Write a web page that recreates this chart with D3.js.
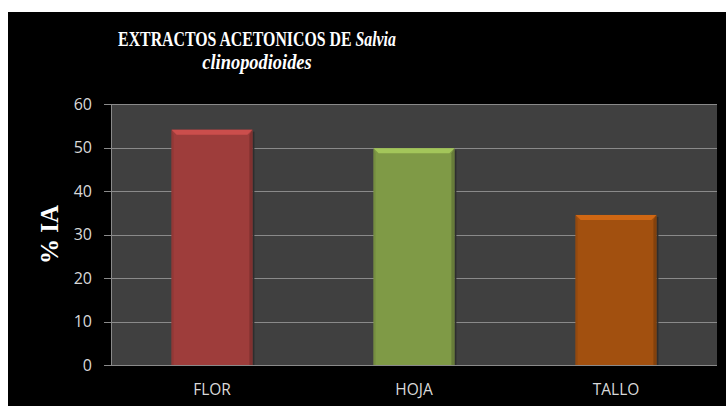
<!DOCTYPE html>
<html>
<head>
<meta charset="utf-8">
<script src="https://cdn.jsdelivr.net/npm/d3@7"></script>
<style>
  body { margin: 0; background: #fff; }
  svg { display: block; }
</style>
</head>
<body>
<div id="vis"></div>
<script>
// chart values
var categories = ['FLOR', 'HOJA', 'TALLO'];
var values = [54.1, 49.8, 34.5];
var barColors = ['#9e3d3b', '#7f9a46', '#a2500f'];
var yTicks = [0, 10, 20, 30, 40, 50, 60];

var width = 726;
var height = 406;
var margin = { top: 104, right: 9, bottom: 41, left: 111 };

var svg = d3.select('#vis')
  .append('svg')
  .attr('width', width)
  .attr('height', height);

// black chart background
svg.append('rect')
  .attr('x', 8).attr('y', 12)
  .attr('width', width - 8).attr('height', height - 12)
  .attr('fill', '#000');

var x = d3.scaleBand()
  .domain(categories)
  .range([margin.left, width - margin.right])
  .paddingInner(0.6)
  .paddingOuter(0.3);

var y = d3.scaleLinear()
  .domain([0, 60])
  .range([height - margin.bottom, margin.top]);

// plot area
svg.append('rect')
  .attr('x', margin.left).attr('y', margin.top)
  .attr('width', width - margin.right - margin.left)
  .attr('height', y(0) - y(60))
  .attr('fill', '#404040');

// gridlines + tick marks
svg.append('g')
  .selectAll('line')
  .data(yTicks)
  .enter().append('line')
  .attr('x1', margin.left - 7)
  .attr('x2', width - margin.right)
  .attr('y1', function(d) { return Math.round(y(d)) + 0.5; })
  .attr('y2', function(d) { return Math.round(y(d)) + 0.5; })
  .attr('stroke', '#8a8a8a')
  .attr('stroke-width', 1);

// y axis line
svg.append('line')
  .attr('x1', margin.left + 0.5).attr('x2', margin.left + 0.5)
  .attr('y1', y(60)).attr('y2', y(0))
  .attr('stroke', '#8a8a8a');

// y tick labels
svg.append('g')
  .selectAll('text')
  .data(yTicks)
  .enter().append('text')
  .attr('x', margin.left - 19)
  .attr('y', function(d) { return y(d); })
  .attr('dy', '0.35em')
  .attr('text-anchor', 'end')
  .attr('font-family', 'Open Sans, Liberation Sans, sans-serif')
  .attr('font-size', 16)
  .attr('fill', '#d9d9d9')
  .text(function(d) { return d; });

// x labels
svg.append('g')
  .selectAll('text')
  .data(categories)
  .enter().append('text')
  .attr('x', function(d) { return x(d) + x.bandwidth() / 2; })
  .attr('y', y(0) + 30)
  .attr('text-anchor', 'middle')
  .attr('font-family', 'Open Sans, Liberation Sans, sans-serif')
  .attr('font-size', 15.5)
  .attr('fill', '#d9d9d9')
  .text(function(d) { return d; });

// bars with a bevel look
var data = categories.map(function(c, i) {
  return { name: c, value: values[i], color: barColors[i] };
});

var bars = svg.append('g')
  .selectAll('g')
  .data(data)
  .enter().append('g');

// soft shadow on the right
bars.append('rect')
  .attr('x', function(d) { return x(d.name) + x.bandwidth(); })
  .attr('y', function(d) { return y(d.value) + 2; })
  .attr('width', 2)
  .attr('height', function(d) { return y(0) - y(d.value) - 2; })
  .attr('fill', '#2e2e2e');

bars.append('rect')
  .attr('x', function(d) { return x(d.name); })
  .attr('y', function(d) { return y(d.value); })
  .attr('width', x.bandwidth())
  .attr('height', function(d) { return y(0) - y(d.value); })
  .attr('fill', function(d) { return d.color; });

var bev = 5;
// top highlight
bars.append('path')
  .attr('d', function(d) {
    var x0 = x(d.name), x1 = x0 + x.bandwidth(), t = y(d.value);
    return 'M' + x0 + ',' + t + 'L' + x1 + ',' + t +
      'L' + (x1 - bev) + ',' + (t + bev) + 'L' + (x0 + bev) + ',' + (t + bev) + 'Z';
  })
  .attr('fill', function(d) { return d3.color(d.color).brighter(0.7); });

// left & right shade
bars.append('path')
  .attr('d', function(d) {
    var x0 = x(d.name), t = y(d.value), b = y(0);
    return 'M' + x0 + ',' + t + 'L' + (x0 + 2) + ',' + (t + bev) +
      'L' + (x0 + 2) + ',' + b + 'L' + x0 + ',' + b + 'Z';
  })
  .attr('fill', function(d) { return d3.color(d.color).darker(0.25); });

bars.append('path')
  .attr('d', function(d) {
    var x1 = x(d.name) + x.bandwidth(), t = y(d.value), b = y(0);
    return 'M' + x1 + ',' + t + 'L' + (x1 - 3) + ',' + (t + bev) +
      'L' + (x1 - 3) + ',' + b + 'L' + x1 + ',' + b + 'Z';
  })
  .attr('fill', function(d) { return d3.color(d.color).darker(0.6); });

// title (the original is drawn with condensed glyphs)
var title = svg.append('text')
  .attr('transform', 'translate(257,46) scale(0.72,1)')
  .attr('text-anchor', 'middle')
  .attr('font-family', 'Liberation Serif, Times New Roman, serif')
  .attr('font-weight', 'bold')
  .attr('font-size', 22)
  .attr('fill', '#fff');
title.append('tspan').text('EXTRACTOS ACETONICOS DE ');
title.append('tspan').attr('font-style', 'italic').text('Salvia');

svg.append('text')
  .attr('transform', 'translate(257,69) scale(0.92,1)')
  .attr('text-anchor', 'middle')
  .attr('font-family', 'Liberation Serif, Times New Roman, serif')
  .attr('font-weight', 'bold')
  .attr('font-style', 'italic')
  .attr('font-size', 20)
  .attr('fill', '#fff')
  .text('clinopodioides');

// y axis title
svg.append('text')
  .attr('transform', 'translate(58,' + y(30) + ') rotate(-90)')
  .attr('text-anchor', 'middle')
  .attr('font-family', 'Liberation Serif, Times New Roman, serif')
  .attr('font-weight', 'bold')
  .attr('font-size', 25)
  .attr('fill', '#fff')
  .text('% IA');
</script>
</body>
</html>
